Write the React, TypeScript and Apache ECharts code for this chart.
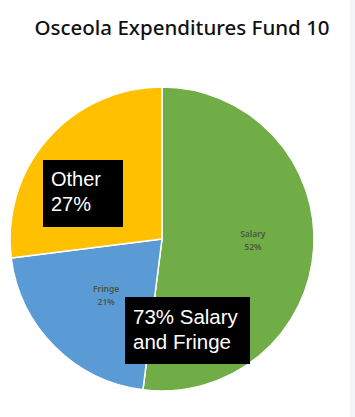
import React, { useEffect, useRef } from "react";
import * as echarts from "echarts";

const categories = ["Salary", "Fringe", "Other"];
const values = [52, 21, 27];
const colors = ["#70AD47", "#5B9BD5", "#FFC000"];
const titleText = "Osceola Expenditures Fund 10";
const callout1 = ["Other", "27%"];
const callout2 = ["73% Salary", "and Fringe"];

export default function App() {
  const ref = useRef<HTMLDivElement>(null);
  useEffect(() => {
    const chart = echarts.init(ref.current!, undefined, { renderer: "svg" });
    chart.setOption({
      animation: false,
      backgroundColor: "#ffffff",
      title: {
        text: titleText,
        left: 177,
        textAlign: "center",
        top: 11,
        textStyle: { fontFamily: "Noto Sans", fontWeight: 500, fontSize: 20.5, color: "#111" },
      },
      series: [
        {
          type: "pie",
          center: [162, 239],
          radius: 152,
          startAngle: 90,
          clockwise: true,
          silent: true,
          data: categories.map((c, i) => ({
            name: c,
            value: values[i],
            itemStyle: { color: colors[i] },
            label: i === 2 ? { show: false } : undefined,
          })),
          itemStyle: { borderColor: "#ffffff", borderWidth: 1.5 },
          label: {
            show: true,
            position: "inside",
            formatter: (p: any) => `${p.name}\n${p.value}%`,
            fontFamily: "Noto Sans",
            fontSize: 8.5,
            fontWeight: 600,
            lineHeight: 13,
            color: "#4a5743",
          },
          labelLayout: (p: any) => (p.dataIndex === 0 ? { dx: 12, dy: -4 } : {}),
          labelLine: { show: false },
        },
      ],
      graphic: [
        { type: "rect", z: 100, shape: { x: 350, y: 0, width: 5, height: 417 }, style: { fill: "#f3f5f9" } },
        { type: "rect", z: 100, shape: { x: 43, y: 160, width: 80, height: 67 }, style: { fill: "#000" } },
        {
          type: "text",
          z: 101,
          x: 51,
          y: 166,
          style: {
            text: callout1.join("\n"),
            fill: "#fff",
            font: "20px 'Liberation Sans'",
            lineHeight: 25,
          },
        },
        { type: "rect", z: 100, shape: { x: 125, y: 297, width: 125, height: 67 }, style: { fill: "#000" } },
        {
          type: "text",
          z: 101,
          x: 133,
          y: 304,
          style: {
            text: callout2.join("\n"),
            fill: "#fff",
            font: "20.5px 'Liberation Sans'",
            lineHeight: 25,
          },
        },
      ],
    });
    return () => chart.dispose();
  }, []);
  return <div ref={ref} style={{ width: 355, height: 417, position: "absolute", left: 0, top: 0 }} />;
}
